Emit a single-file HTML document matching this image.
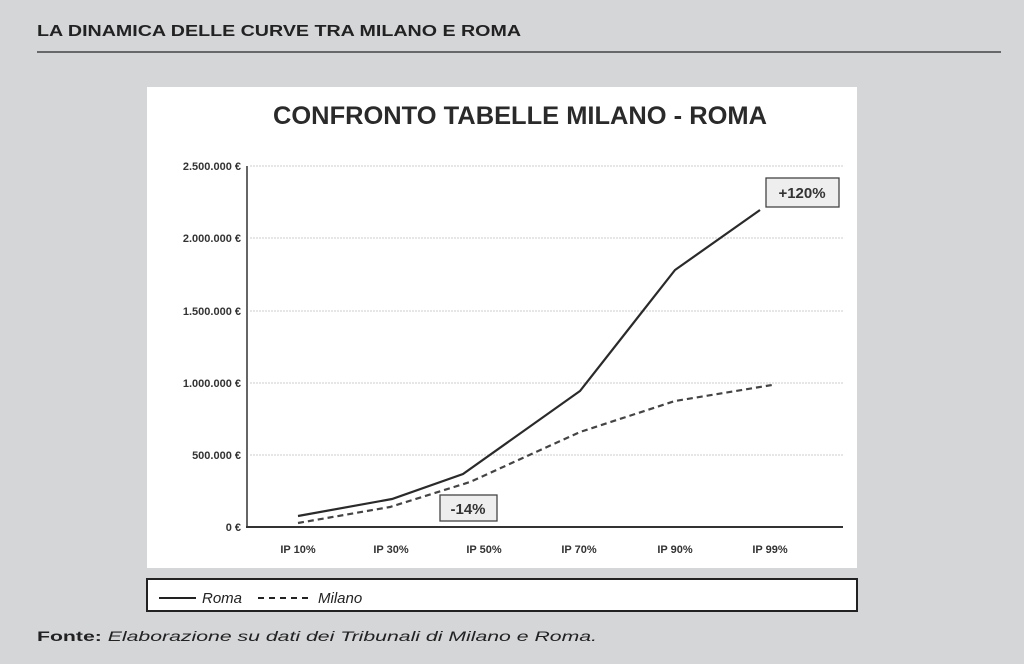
<!DOCTYPE html>
<html><head><meta charset="utf-8"><style>
body{margin:0;width:1024px;height:664px;background:#d5d6d8;font-family:"Liberation Sans",sans-serif;overflow:hidden;position:relative}
</style></head><body>
<svg width="1024" height="664" style="position:absolute;left:0;top:0">
<text x="37" y="36" font-size="16" font-weight="bold" fill="#222" textLength="484" lengthAdjust="spacingAndGlyphs">LA DINAMICA DELLE CURVE TRA MILANO E ROMA</text>
<line x1="37" y1="52" x2="1001" y2="52" stroke="#444" stroke-width="1.5"/>
<rect x="147" y="87" width="710" height="481" fill="#fff"/>
<text x="273" y="124" font-size="25" font-weight="bold" fill="#2a2a2a" textLength="494" lengthAdjust="spacingAndGlyphs">CONFRONTO TABELLE MILANO - ROMA</text>
<g stroke="#ddd" stroke-width="1.5" stroke-dasharray="2,1">
<line x1="250" y1="166" x2="843" y2="166"/><line x1="250" y1="238" x2="843" y2="238"/>
<line x1="250" y1="311" x2="843" y2="311"/><line x1="250" y1="383" x2="843" y2="383"/>
<line x1="250" y1="455" x2="843" y2="455"/></g>
<line x1="247" y1="166" x2="247" y2="528" stroke="#333" stroke-width="1.5"/>
<line x1="246" y1="527" x2="843" y2="527" stroke="#333" stroke-width="2"/>
<g font-size="11" fill="#333" text-anchor="end" font-weight="bold">
<text x="241" y="170">2.500.000 €</text><text x="241" y="242">2.000.000 €</text>
<text x="241" y="315">1.500.000 €</text><text x="241" y="387">1.000.000 €</text>
<text x="241" y="459">500.000 €</text><text x="241" y="531">0 €</text></g>
<g font-size="11" fill="#333" text-anchor="middle" font-weight="bold">
<text x="298" y="553">IP 10%</text><text x="391" y="553">IP 30%</text><text x="484" y="553">IP 50%</text>
<text x="579" y="553">IP 70%</text><text x="675" y="553">IP 90%</text><text x="770" y="553">IP 99%</text></g>
<polyline points="298,516 392,499 463,474 580,391 675,270 760,210" fill="none" stroke="#2a2a2a" stroke-width="2.2"/>
<polyline points="298,523 390,507 470,482 580,432 675,401 772,385" fill="none" stroke="#444" stroke-width="2.2" stroke-dasharray="6,4"/>
<rect x="766" y="178" width="73" height="29" fill="#eee" stroke="#444" stroke-width="1.3"/>
<text x="802" y="198" font-size="15" font-weight="bold" fill="#333" text-anchor="middle">+120%</text>
<rect x="440" y="495" width="57" height="26" fill="#eee" stroke="#444" stroke-width="1.3"/>
<text x="468" y="514" font-size="15" font-weight="bold" fill="#333" text-anchor="middle">-14%</text>
<rect x="147" y="579" width="710" height="32" fill="#fff" stroke="#222" stroke-width="2"/>
<line x1="159" y1="598" x2="196" y2="598" stroke="#222" stroke-width="2"/>
<text x="202" y="603" font-size="15" font-style="italic" fill="#222">Roma</text>
<line x1="258" y1="598" x2="308" y2="598" stroke="#222" stroke-width="2" stroke-dasharray="6,5"/>
<text x="318" y="603" font-size="15" font-style="italic" fill="#222">Milano</text>
<text x="37" y="641" font-size="14" fill="#222" textLength="560" lengthAdjust="spacingAndGlyphs"><tspan font-weight="bold">Fonte:</tspan> <tspan font-style="italic">Elaborazione su dati dei Tribunali di Milano e Roma.</tspan></text>
</svg>
</body></html>
